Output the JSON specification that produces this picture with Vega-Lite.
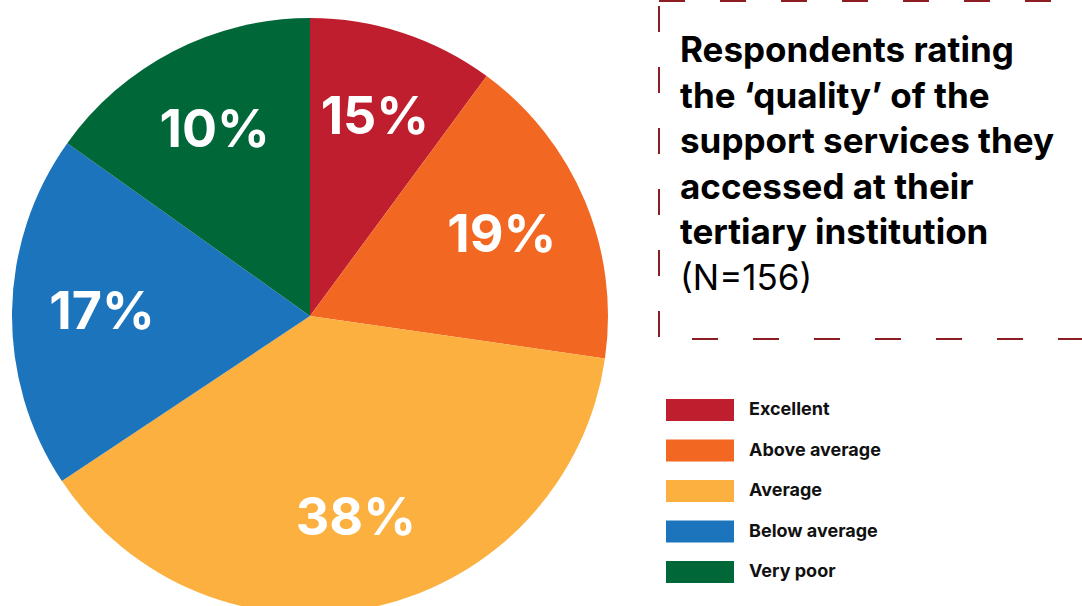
{
  "$schema": "https://vega.github.io/schema/vega-lite/v6.json",
  "padding": 0,
  "background": "white",
  "spacing": 38,
  "config": {"view": {"stroke": null}, "font": "Inter"},
  "datasets": {
    "ratings": [
      {"rank": 1, "rating": "Excellent", "share": 10, "label": "15%"},
      {"rank": 2, "rating": "Above average", "share": 17, "label": "19%"},
      {"rank": 3, "rating": "Average", "share": 38, "label": "38%"},
      {"rank": 4, "rating": "Below average", "share": 19, "label": "17%"},
      {"rank": 5, "rating": "Very poor", "share": 15, "label": "10%"}
    ],
    "titleLines": [
      {"line": 1, "text": "Respondents rating", "style": "bold"},
      {"line": 2, "text": "the ‘quality’ of the", "style": "bold"},
      {"line": 3, "text": "support services they", "style": "bold"},
      {"line": 4, "text": "accessed at their", "style": "bold"},
      {"line": 5, "text": "tertiary institution", "style": "bold"},
      {"line": 6, "text": "(N=156)", "style": "regular"}
    ]
  },
  "hconcat": [
    {
      "width": 620,
      "height": 630,
      "data": {"name": "ratings"},
      "encoding": {
        "theta": {"field": "share", "type": "quantitative", "stack": true},
        "order": {"field": "rank", "type": "quantitative"}
      },
      "layer": [
        {
          "mark": {"type": "arc", "radius": 298},
          "encoding": {
            "color": {
              "field": "rating",
              "type": "nominal",
              "scale": {
                "domain": ["Excellent", "Above average", "Average", "Below average", "Very poor"],
                "range": ["#be1e2d", "#f26722", "#fbb040", "#1c75bc", "#006838"]
              },
              "legend": null
            }
          }
        },
        {
          "mark": {"type": "text", "radius": 208, "fontSize": 52, "fontWeight": "bold", "font": "Inter", "color": "white"},
          "encoding": {
            "detail": {"field": "rating", "type": "nominal"},
            "text": {"field": "label", "type": "nominal"}
          }
        }
      ]
    },
    {
      "spacing": 49.75,
      "vconcat": [
        {
          "width": 440,
          "height": 338,
          "view": {"stroke": "#8c1d22", "strokeWidth": 2, "strokeDash": [26, 35]},
          "data": {"name": "titleLines"},
          "encoding": {
            "x": {"datum": 21, "type": "quantitative", "scale": {"domain": [0, 440], "nice": false, "zero": true}, "axis": null},
            "y": {"field": "line", "type": "quantitative", "scale": {"domain": [0, 7.4286], "reverse": true, "nice": false}, "axis": null},
            "text": {"field": "text", "type": "nominal"}
          },
          "layer": [
            {
              "transform": [{"filter": "datum.style === 'bold'"}],
              "mark": {"type": "text", "align": "left", "baseline": "alphabetic", "dy": 16, "fontSize": 35, "fontWeight": "bold", "font": "Inter", "color": "#000000"}
            },
            {
              "transform": [{"filter": "datum.style === 'regular'"}],
              "mark": {"type": "text", "align": "left", "baseline": "alphabetic", "dy": 16, "fontSize": 35, "fontWeight": "normal", "font": "Inter", "color": "#000000"}
            }
          ]
        },
        {
          "width": 424,
          "height": 202.5,
          "data": {"name": "ratings"},
          "encoding": {
            "y": {
              "field": "rating",
              "type": "nominal",
              "sort": {"field": "rank"},
              "scale": {"paddingInner": 0, "paddingOuter": 0},
              "axis": null
            }
          },
          "layer": [
            {
              "mark": {"type": "bar", "height": 22},
              "encoding": {
                "x": {"datum": 7, "type": "quantitative", "scale": {"domain": [0, 424], "nice": false}, "axis": null},
                "x2": {"datum": 75},
                "color": {
                  "field": "rating",
                  "type": "nominal",
                  "scale": {
                    "domain": ["Excellent", "Above average", "Average", "Below average", "Very poor"],
                    "range": ["#be1e2d", "#f26722", "#fbb040", "#1c75bc", "#006838"]
                  },
                  "legend": null
                }
              }
            },
            {
              "mark": {"type": "text", "align": "left", "baseline": "middle", "fontSize": 18, "fontWeight": "bold", "font": "Inter", "color": "#111111"},
              "encoding": {
                "x": {"datum": 90, "type": "quantitative"},
                "text": {"field": "rating", "type": "nominal"}
              }
            }
          ]
        }
      ]
    }
  ]
}
